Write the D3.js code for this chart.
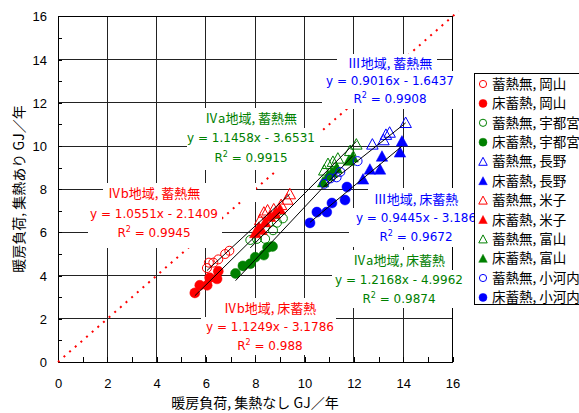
<!DOCTYPE html>
<html><head><meta charset="utf-8">
<script src="https://cdn.jsdelivr.net/npm/d3@7"></script>
<style>body{margin:0;background:#fff;} svg{display:block;}</style>
</head><body><svg id="c" width="579" height="413"></svg>
<script>
// ---------- data ----------
const axisTicks = [0, 2, 4, 6, 8, 10, 12, 14, 16];
const seriesNames = ["蓄熱無, 岡山","床蓄熱, 岡山","蓄熱無, 宇都宮","床蓄熱, 宇都宮","蓄熱無, 長野","床蓄熱, 長野",
                     "蓄熱無, 米子","床蓄熱, 米子","蓄熱無, 富山","床蓄熱, 富山","蓄熱無, 小河内","床蓄熱, 小河内"];
const okayamaNoX   = [6.04, 6.12, 6.3, 6.5, 6.78, 6.95];
const okayamaNoY   = [4.35, 4.6, 4.6, 4.75, 5.0, 5.15];
const okayamaFlX   = [5.55, 5.75, 6.05, 6.15, 6.45, 6.5];
const okayamaFlY   = [3.2, 3.55, 3.55, 3.9, 3.85, 4.2];
const utsuNoX      = [7.8, 8.07, 8.4, 8.72, 8.88, 9.12];
const utsuNoY      = [5.65, 5.7, 5.7, 6.1, 6.45, 6.65];
const utsuFlX      = [7.2, 7.5, 7.8, 8.0, 8.35, 8.5, 8.7];
const utsuFlY      = [4.1, 4.45, 4.55, 4.85, 4.95, 5.3, 5.35];
const naganoNoX    = [12.75, 13.2, 13.3, 13.45, 14.1];
const naganoNoY    = [10.05, 10.25, 10.5, 10.6, 11.05];
const naganoFlX    = [12.37, 12.65, 13.06, 13.14, 13.87, 13.95];
const naganoFlY    = [8.43, 8.89, 8.89, 9.49, 9.68, 10.19];
const yonagoNoX    = [8.2, 8.35, 8.5, 8.75, 9.05, 9.3, 9.4];
const yonagoNoY    = [6.55, 6.9, 7.0, 7.05, 7.25, 7.5, 7.75];
const yonagoFlX    = [8.0, 8.15, 8.25, 8.4, 8.6, 8.8, 9.0];
const yonagoFlY    = [5.95, 6.2, 6.1, 6.45, 6.7, 6.85, 7.05];
const toyamaNoX    = [10.8, 10.95, 11.15, 11.35, 11.85, 12.1];
const toyamaNoY    = [8.85, 9.15, 9.25, 9.4, 9.75, 10.05];
const toyamaFlX    = [10.75, 10.95, 11.1, 11.3, 11.8, 11.95];
const toyamaFlY    = [8.3, 8.6, 8.75, 8.95, 9.3, 9.45];
const ogouchiNoX   = [10.8, 11.05, 11.3, 11.45, 12.15];
const ogouchiNoY   = [8.25, 8.5, 8.55, 8.8, 9.3];
const ogouchiFlX   = [10.22, 10.5, 10.9, 11.11, 11.64, 11.72];
const ogouchiFlY   = [6.44, 6.94, 6.94, 7.36, 7.5, 8.1];

const seriesX = [okayamaNoX, okayamaFlX, utsuNoX, utsuFlX, naganoNoX, naganoFlX, yonagoNoX, yonagoFlX, toyamaNoX, toyamaFlX, ogouchiNoX, ogouchiFlX];
const seriesY = [okayamaNoY, okayamaFlY, utsuNoY, utsuFlY, naganoNoY, naganoFlY, yonagoNoY, yonagoFlY, toyamaNoY, toyamaFlY, ogouchiNoY, ogouchiFlY];

// trendline groups (regions)
const trendTitles = ["Ⅳb地域, 蓄熱無","Ⅳa地域, 蓄熱無","Ⅲ地域, 蓄熱無","Ⅳb地域, 床蓄熱","Ⅳa地域, 床蓄熱","Ⅲ地域, 床蓄熱"];
const trendEqs    = ["y = 1.0551x - 2.1409","y = 1.1458x - 3.6531","y = 0.9016x - 1.6437","y = 1.1249x - 3.1786","y = 1.2168x - 4.9962","y = 0.9445x - 3.186"];
const trendR2     = ["0.9945","0.9915","0.9908","0.988","0.9874","0.9672"];
const trendSlopes = [1.0551, 1.1458, 0.9016, 1.1249, 1.2168, 0.9445];
const trendInts   = [-2.1409, -3.6531, -1.6437, -3.1786, -4.9962, -3.186];
const trendMembers = [[0,6],[2,8],[4,10],[1,7],[3,9],[5,11]];

// ---------- style / layout ----------
const RED = "#ff0000", GREEN = "#008000", BLUE = "#0000ff";
const seriesColors = [RED,RED,GREEN,GREEN,BLUE,BLUE,RED,RED,GREEN,GREEN,BLUE,BLUE];
const seriesShapes = ["c","c","c","c","t","t","t","t","t","t","c","c"];
const seriesFilled = [false,true,false,true,false,true,false,true,false,true,false,true];
const trendColors = [RED, GREEN, BLUE, RED, GREEN, BLUE];
const labelLayout = [
  {cx:154, ly:[193,214,233], tb:[103,183,256,202], eb:[88,202,222,248]},
  {cx:251, ly:[118,138,158], tb:[198,108,302,128], eb:[187,128,320,170]},
  {cx:390, ly:[63,81,99],   tb:[337,54,437,71],   eb:[322,71,460,109]},
  {cx:270, ly:[308,327,346], tb:[220,298,328,317], eb:[201,317,336,355]},
  {cx:399, ly:[260,280,299], tb:[343,250,451,270], eb:[332,270,467,308]},
  {cx:416, ly:[199,218,237], tb:[368,188,468,208], eb:[349,208,482,247]}
];

const svg = d3.select("#c");
const x = d3.scaleLinear().domain([0,16]).range([58, 452.5]);
const y = d3.scaleLinear().domain([0,16]).range([362, 16.4]);

// gridlines
const grid = svg.append("g").attr("stroke","#222").attr("stroke-width",1).attr("shape-rendering","crispEdges");
axisTicks.filter(v => v > 0 && v < 16).forEach(v => {
  grid.append("line").attr("x1", x(v)).attr("x2", x(v)).attr("y1", y(0)).attr("y2", y(16));
  grid.append("line").attr("x1", x(0)).attr("x2", x(16)).attr("y1", y(v)).attr("y2", y(v));
});
grid.append("line").attr("x1", x(0)).attr("x2", x(16)).attr("y1", y(16)).attr("y2", y(16)).attr("stroke","#000");
grid.append("line").attr("x1", x(16)).attr("x2", x(16)).attr("y1", y(16)).attr("y2", y(0)).attr("stroke","#000");

// axes (labels)
const tickFont = "'Liberation Sans', Arial, sans-serif";
const gx = svg.append("g").attr("transform", `translate(0,${y(0)})`)
  .call(d3.axisBottom(x).tickValues(axisTicks).tickSize(0).tickFormat(d3.format("d")));
gx.select(".domain").remove();
gx.selectAll("text").attr("y", 21).attr("dy", "0.35em").attr("font-size", 13).attr("font-family", tickFont).attr("fill","#000");
const gy = svg.append("g").attr("transform", `translate(${x(0)},0)`)
  .call(d3.axisLeft(y).tickValues(axisTicks).tickSize(0).tickFormat(d3.format("d")));
gy.select(".domain").remove();
gy.selectAll("text").attr("x", -11).attr("dy", "0.35em").attr("font-size", 13).attr("font-family", tickFont).attr("fill","#000");

// minor ticks (inward) + axis lines
const minor = d3.range(0, 17);
const mx = svg.append("g").attr("transform", `translate(0,${y(0)})`)
  .call(d3.axisBottom(x).tickValues(minor).tickSize(-5).tickSizeOuter(0).tickFormat(""));
mx.selectAll("line,path").attr("stroke","#000").attr("shape-rendering","crispEdges");
const my = svg.append("g").attr("transform", `translate(${x(0)},0)`)
  .call(d3.axisLeft(y).tickValues(minor).tickSize(-4).tickSizeOuter(0).tickFormat(""));
my.selectAll("line,path").attr("stroke","#000").attr("shape-rendering","crispEdges");

// y = x dotted reference
svg.append("line").attr("x1", x(0)).attr("y1", y(0)).attr("x2", x(16.25)).attr("y2", y(16.25))
  .attr("stroke", RED).attr("stroke-width", 2).attr("stroke-dasharray", "2 5.5");

// label boxes and texts
const cjk = "'Noto Sans CJK JP', sans-serif";
const latin = "'DejaVu Sans', 'Noto Sans CJK JP', sans-serif";
labelLayout.forEach((L, i) => {
  [L.tb, L.eb].forEach(b => svg.append("rect").attr("x", b[0]).attr("y", b[1])
    .attr("width", b[2]-b[0]).attr("height", b[3]-b[1]).attr("fill","#fff"));
  const col = trendColors[i];
  svg.append("text").attr("x", L.cx).attr("y", L.ly[0]).attr("dy","0.36em").attr("text-anchor","middle")
    .attr("font-family", cjk).attr("font-size", 13).attr("fill", col).text(trendTitles[i]);
  svg.append("text").attr("x", L.cx).attr("y", L.ly[1]).attr("dy","0.36em").attr("text-anchor","middle")
    .attr("font-family", latin).attr("font-size", 12).attr("fill", col).text(trendEqs[i]);
  const r = svg.append("text").attr("x", L.cx).attr("y", L.ly[2]).attr("dy","0.36em").attr("text-anchor","middle")
    .attr("font-family", latin).attr("font-size", 12).attr("fill", col);
  r.append("tspan").text("R");
  r.append("tspan").attr("dy", -5).attr("font-size", 8).text("2");
  r.append("tspan").attr("dy", 5).text(" = " + trendR2[i]);
});

// markers
function triPath(cx, cy, w, h) {
  return `M${cx},${cy - h*0.6}L${cx + w/2},${cy + h*0.4}L${cx - w/2},${cy + h*0.4}Z`;
}
const marks = svg.append("g");
seriesX.forEach((xs, s) => {
  const col = seriesColors[s], filled = seriesFilled[s];
  xs.forEach((xv, k) => {
    const px = x(xv), py = y(seriesY[s][k]);
    let el;
    if (seriesShapes[s] === "c") {
      el = marks.append("circle").attr("cx", px).attr("cy", py).attr("r", filled ? 5 : 4.5);
    } else {
      el = marks.append("path").attr("d", triPath(px, py, 11.5, 10.5));
    }
    el.attr("fill", filled ? col : "none").attr("stroke", col).attr("stroke-width", filled ? 0.5 : 1);
  });
});

// trendlines
trendMembers.forEach((m, i) => {
  const allX = m.flatMap(s => seriesX[s]);
  const x0 = d3.min(allX), x1 = d3.max(allX);
  const f = v => trendSlopes[i] * v + trendInts[i];
  svg.append("line").attr("x1", x(x0)).attr("y1", y(f(x0))).attr("x2", x(x1)).attr("y2", y(f(x1)))
    .attr("stroke", "#000").attr("stroke-width", 1);
});

// axis titles
svg.append("text").attr("x", 255).attr("y", 403).attr("dy","0.36em").attr("text-anchor","middle")
  .attr("font-family", cjk).attr("font-size", 14).attr("fill","#000").text("暖房負荷, 集熱なし GJ／年");
svg.append("text").attr("transform","translate(19,189) rotate(-90)").attr("dy","0.36em").attr("text-anchor","middle")
  .attr("font-family", cjk).attr("font-size", 14).attr("fill","#000").text("暖房負荷, 集熱あり GJ／年");

// legend
const lg = svg.append("g");
lg.append("rect").attr("x", 474.5).attr("y", 73.5).attr("width", 130).attr("height", 231)
  .attr("fill","#fff").attr("stroke","#000").attr("stroke-width",1);
seriesNames.forEach((name, s) => {
  const cy = 84 + s * 19.4, col = seriesColors[s], filled = seriesFilled[s];
  let el;
  if (seriesShapes[s] === "c") el = lg.append("circle").attr("cx", 483).attr("cy", cy).attr("r", filled ? 4 : 3.6);
  else el = lg.append("path").attr("d", triPath(483, cy + 0.5, 8.5, 8));
  el.attr("fill", filled ? col : "none").attr("stroke", col).attr("stroke-width", filled ? 0.5 : 1);
  lg.append("text").attr("x", 492).attr("y", cy).attr("dy","0.36em").attr("font-family", cjk)
    .attr("font-size", 13.5).attr("fill","#000").text(name);
});
</script></body></html>
